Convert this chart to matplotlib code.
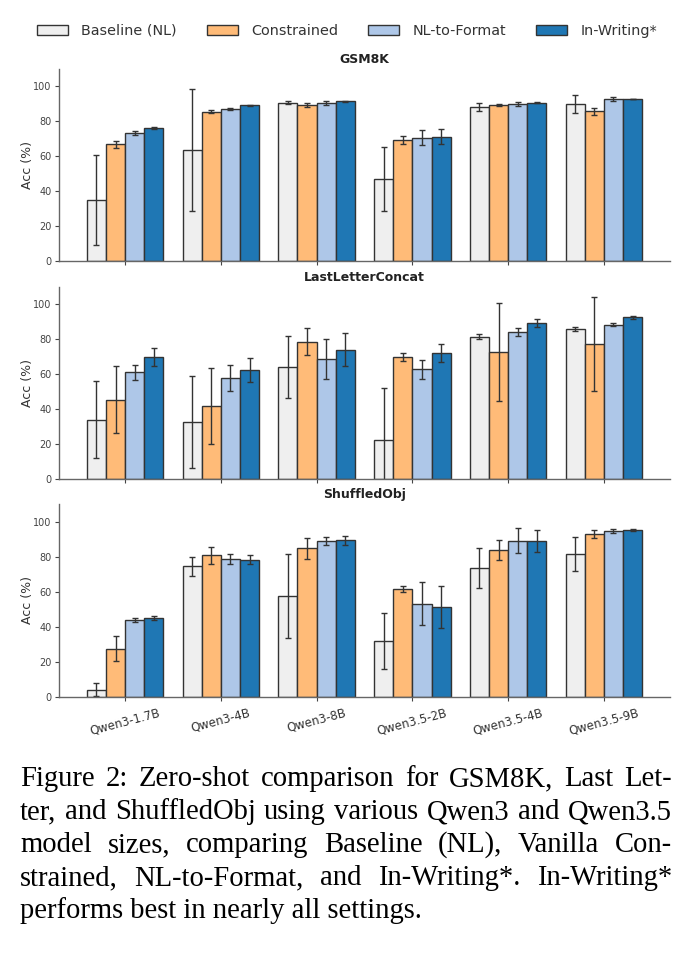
import numpy as np
import matplotlib
matplotlib.use("Agg")
import matplotlib.pyplot as plt

plt.rcParams['font.family'] = ['DejaVu Sans']

models = ["Qwen3-1.7B", "Qwen3-4B", "Qwen3-8B", "Qwen3.5-2B", "Qwen3.5-4B", "Qwen3.5-9B"]
methods = ["Baseline (NL)", "Constrained", "NL-to-Format", "In-Writing*"]
titles = ["GSM8K", "LastLetterConcat", "ShuffledObj"]

# rows: methods, cols: models
gsm8k_acc = [[34.7, 63.4, 90.5, 46.9, 88.0, 89.7],
             [66.7, 85.3, 89.0, 69.3, 89.1, 85.5],
             [73.3, 86.7, 90.1, 70.5, 89.9, 92.4],
             [76.0, 89.1, 91.2, 71.0, 90.5, 92.6]]
gsm8k_err = [[25.7, 34.9, 0.8, 18.5, 2.3, 5.1],
             [2.0, 1.0, 1.2, 2.2, 0.8, 2.1],
             [1.2, 0.6, 1.2, 4.3, 1.2, 1.1],
             [0.8, 0.3, 0.5, 4.4, 0.3, 0.2]]

lastletter_acc = [[33.7, 32.3, 63.9, 22.4, 81.3, 85.9],
                  [45.3, 41.5, 78.6, 69.6, 72.7, 77.1],
                  [61.0, 57.6, 68.5, 62.7, 84.1, 88.2],
                  [69.6, 62.3, 74.0, 71.9, 89.1, 92.4]]
lastletter_err = [[22.0, 26.3, 17.6, 29.8, 1.5, 1.0],
                  [19.2, 21.7, 7.9, 2.2, 28.1, 27.1],
                  [4.4, 7.5, 11.4, 5.5, 2.4, 1.0],
                  [5.0, 7.0, 9.4, 5.1, 2.2, 1.0]]

shuffled_acc = [[4.0, 74.4, 57.3, 31.9, 73.3, 81.5],
                [27.3, 80.7, 84.7, 61.5, 83.6, 92.7],
                [43.9, 78.6, 88.9, 53.1, 89.1, 94.7],
                [45.0, 78.2, 89.3, 51.1, 88.9, 95.2]]
shuffled_err = [[3.6, 5.4, 24.0, 16.1, 11.4, 9.6],
                [7.1, 4.8, 6.0, 1.8, 5.7, 2.2],
                [1.0, 2.9, 2.3, 12.3, 7.0, 1.1],
                [1.2, 2.5, 2.5, 12.0, 6.2, 0.8]]

caption_lines = [
    "Figure 2: Zero-shot comparison for GSM8K, Last Let-",
    "ter, and ShuffledObj using various Qwen3 and Qwen3.5",
    "model sizes, comparing Baseline (NL), Vanilla Con-",
    "strained, NL-to-Format, and In-Writing*. In-Writing*",
    "performs best in nearly all settings.",
]

colors = ["#efefef", "#ffbb78", "#aec7e8", "#1f77b4"]

W, H = 694, 959
fig = plt.figure(figsize=(W / 100, H / 100), dpi=100)


def px_axes(left, top, right, bottom):
    return fig.add_axes([left / W, 1 - bottom / H, (right - left) / W, (bottom - top) / H])


panels = [(59, 68.5, 670, 261), (59, 286.7, 670, 478.7), (59, 504, 670, 696.7)]
data = [(gsm8k_acc, gsm8k_err), (lastletter_acc, lastletter_err), (shuffled_acc, shuffled_err)]

x = np.arange(len(models))
width = 0.2
for k, (box, (acc, err)) in enumerate(zip(panels, data)):
    ax = px_axes(*box)
    for i, m in enumerate(methods):
        ax.bar(x + (i - 1.5) * width, acc[i], width, yerr=err[i], color=colors[i],
               edgecolor="#333333", linewidth=1.0, label=m,
               error_kw=dict(ecolor="#333333", elinewidth=1.0, capsize=2.5, capthick=1.0))
    ax.set_ylim(0, 110)
    ax.set_yticks([0, 20, 40, 60, 80, 100])
    ax.set_xticks(x)
    if k == 2:
        ax.set_xticklabels(models, rotation=15, fontsize=8.5, color="#333333")
    else:
        ax.set_xticklabels([])
    ax.tick_params(axis="y", labelsize=7, colors="#444444", length=3, width=0.8, pad=2.5)
    ax.tick_params(axis="x", colors="#444444", length=3, width=0.8)
    for lbl in ax.get_xticklabels():
        lbl.set_color("#333333")
    ax.spines["top"].set_visible(False)
    ax.spines["right"].set_visible(False)
    for s in ["left", "bottom"]:
        ax.spines[s].set_color("#666666")
        ax.spines[s].set_linewidth(1.0)
    ax.set_ylabel("Acc (%)", fontsize=9, color="#333333")
    ax.yaxis.set_label_coords(-0.041, 0.5)
    ax.set_title(titles[k], fontsize=9, fontweight="bold", color="#222222", pad=4)
    if k == 0:
        handles, labels = ax.get_legend_handles_labels()

fig.legend(handles, labels, loc="center", bbox_to_anchor=(0.5, 1 - 31 / H), ncol=4,
           frameon=False, fontsize=10.4, handlelength=2.15, handleheight=0.7,
           handletextpad=0.9, columnspacing=2.1, labelcolor="#333333")

# caption, justified like the paper text
cap_font = dict(family="Liberation Serif", fontsize=20.6, color="black")
x0, x1 = 20, 672
baselines = [786, 819, 852, 885, 918]
fig.canvas.draw()
renderer = fig.canvas.get_renderer()
for j, (line, yb) in enumerate(zip(caption_lines, baselines)):
    yf = 1 - yb / H
    if j == len(caption_lines) - 1:
        fig.text(x0 / W, yf, line, va="baseline", ha="left", **cap_font)
        continue
    words = line.split(" ")
    texts = [fig.text(0, yf, w, va="baseline", ha="left", **cap_font) for w in words]
    widths = [t.get_window_extent(renderer).width for t in texts]
    gap = (x1 - x0 - sum(widths)) / (len(words) - 1)
    pos = x0
    for t, w in zip(texts, widths):
        t.set_x(pos / W)
        pos += w + gap

fig.savefig("out.png", dpi=100)
